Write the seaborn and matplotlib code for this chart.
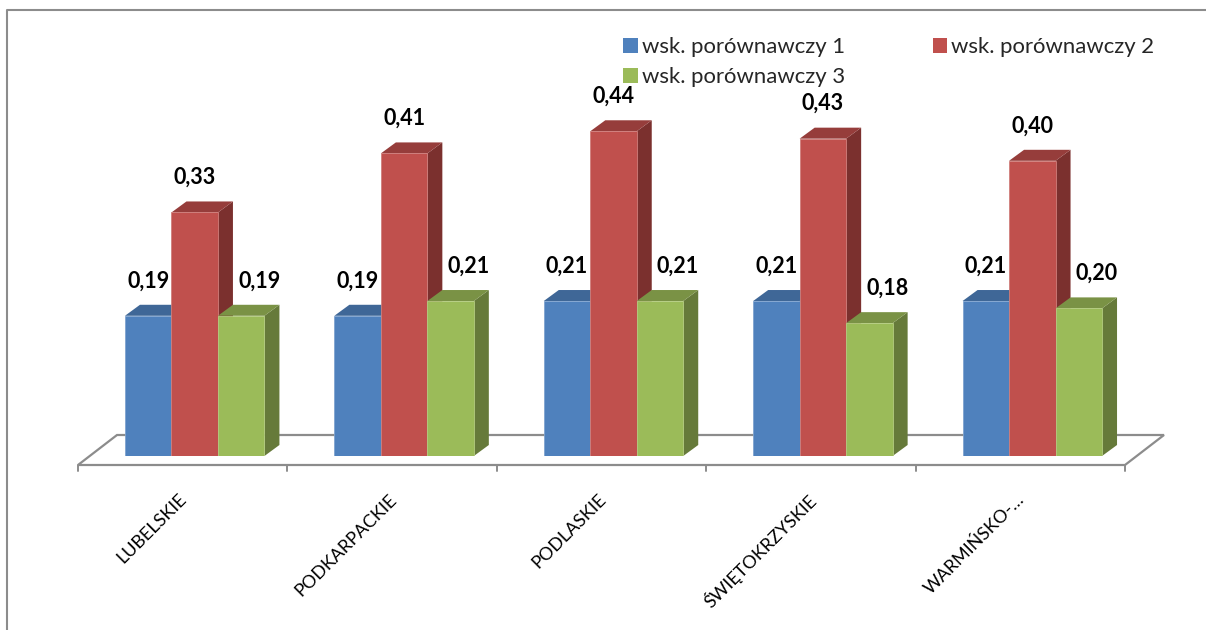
import matplotlib
matplotlib.use("Agg")
import matplotlib.pyplot as plt
import seaborn as sns
import pandas as pd
from matplotlib.lines import Line2D
from matplotlib.patches import Polygon, Patch
from matplotlib.transforms import IdentityTransform, ScaledTranslation

regions = ["LUBELSKIE", "PODKARPACKIE", "PODLASKIE", "ŚWIĘTOKRZYSKIE", "WARMIŃSKO-…"]
series_names = ["wsk. porównawczy 1", "wsk. porównawczy 2", "wsk. porównawczy 3"]
indicator_1 = [0.19, 0.19, 0.21, 0.21, 0.21]
indicator_2 = [0.33, 0.41, 0.44, 0.43, 0.40]
indicator_3 = [0.19, 0.21, 0.21, 0.18, 0.20]

front_colors = ["#4F81BD", "#C0504D", "#9BBB59"]
top_colors = ["#3F6797", "#963D3B", "#7A9245"]
side_colors = ["#345580", "#7B302E", "#667A3A"]
edge_colors = ["#7FA3CF", "#D07F7C", "#B4CC80"]
line_gray = "#8C8C8C"

W, H = 1206, 630
DEPTH_X, DEPTH_Y = 15, 11

sns.set_theme(style="white")
plt.rcParams["font.family"] = ["Lato", "DejaVu Sans"]

fig = plt.figure(figsize=(W / 100, H / 100), dpi=100, facecolor="white")
# Axes box: the front plane of the columns, in figure pixels.
left, right, bottom, top = 90, 1137, 456, 87
ax = fig.add_axes([left / W, 1 - bottom / H, (right - left) / W, (bottom - top) / H])

table = pd.DataFrame({
    "region": regions * 3,
    "value": indicator_1 + indicator_2 + indicator_3,
    "series": [name for name in series_names for _ in regions],
})
sns.barplot(data=table, x="region", y="value", hue="series", palette=front_colors,
            saturation=1, width=0.666, gap=0, dodge=True, legend=False, ax=ax)

ax.set_xlim(-0.5, 4.5)
ax.set_ylim(0, 0.5)
ax.set_xlabel("")
ax.set_ylabel("")
ax.set_yticks([])
ax.patch.set_alpha(0)
sns.despine(ax=ax, left=True, bottom=True)

pixels = IdentityTransform()


def flip(y):
    return H - y


# Column sides and tops, built from each bar's own geometry.
for s, container in enumerate(ax.containers):
    for bar in container:
        bar.set_zorder(5 + 3 * s)
        bar.set_edgecolor(edge_colors[s])
        bar.set_linewidth(0.6)
        (x0, y0), (x1, y1) = ax.transData.transform(
            [(bar.get_x(), 0), (bar.get_x() + bar.get_width(), bar.get_height())])
        side = [(x1, y0), (x1 + DEPTH_X, y0 + DEPTH_Y), (x1 + DEPTH_X, y1 + DEPTH_Y), (x1, y1)]
        roof = [(x0, y1), (x0 + DEPTH_X, y1 + DEPTH_Y), (x1 + DEPTH_X, y1 + DEPTH_Y), (x1, y1)]
        ax.add_patch(Polygon(side, closed=True, transform=pixels, facecolor=side_colors[s],
                             edgecolor="none", zorder=4 + 3 * s, clip_on=False))
        ax.add_patch(Polygon(roof, closed=True, transform=pixels, facecolor=top_colors[s],
                             edgecolor="none", zorder=4 + 3 * s, clip_on=False))

# Value labels; the green series sits a little to the right of its column.
label_shift = [0, 0, 18]
for s, container in enumerate(ax.containers):
    for bar in container:
        ax.annotate(f"{bar.get_height():.2f}".replace(".", ","),
                    (bar.get_x() + bar.get_width() / 2, bar.get_height()),
                    xytext=(label_shift[s], 35), textcoords="offset pixels",
                    ha="center", va="center", fontsize=15.5, fontweight="bold",
                    color="black", zorder=30, annotation_clip=False)

# Floor of the chart, set slightly forward of the columns.
x_front_left = ax.transData.transform((-0.5, 0))[0] - 12
x_front_right = ax.transData.transform((4.5, 0))[0] - 12
y_front, y_back = flip(465), flip(435)
floor = Polygon([(x_front_left, y_front), (x_front_left + 39, y_back),
                 (x_front_right + 39, y_back), (x_front_right, y_front)],
                closed=True, transform=pixels, facecolor="white", edgecolor=line_gray,
                linewidth=1.6, zorder=1, clip_on=False)
ax.add_patch(floor)
for k in range(len(regions) + 1):
    x_tick = ax.transData.transform((k - 0.5, 0))[0] - 12
    ax.add_line(Line2D([x_tick, x_tick], [y_front, y_front - 6], transform=pixels,
                       color=line_gray, linewidth=1.4, zorder=1, clip_on=False))

# Category labels, slanted and ending under the middle of each floor cell.
ax.set_xticks(range(len(regions)))
ax.set_xticklabels(regions)
ax.tick_params(axis="x", length=0, pad=0)
shift = ScaledTranslation(-16 / 100, -35 / 100, fig.dpi_scale_trans)
for tick_label in ax.get_xticklabels():
    tick_label.set_rotation(45)
    tick_label.set_ha("right")
    tick_label.set_va("top")
    tick_label.set_rotation_mode("anchor")
    tick_label.set_fontsize(13)
    tick_label.set_color("black")
    tick_label.set_transform(tick_label.get_transform() + shift)

# Legend: blue and green in the first column, red in the second.
order = [0, 2, 1]
handles = [Patch(facecolor=front_colors[i], edgecolor="none") for i in order]
ax.legend(handles, [series_names[i] for i in order], ncol=2,
          loc="upper left", bbox_to_anchor=(608 / W, 1 - 22 / H),
          bbox_transform=fig.transFigure, frameon=False, fontsize=15.9,
          handlelength=0.65, handleheight=0.65, handletextpad=0.2,
          columnspacing=3.95, labelspacing=0.45, borderpad=0.2)

# Chart frame: only the top and left edges fall inside the image.
fig.add_artist(Line2D([7, 7, W], [0, flip(10), flip(10)], transform=pixels,
                      color=line_gray, linewidth=1.5))

fig.savefig("out.png", dpi=100, facecolor="white")
